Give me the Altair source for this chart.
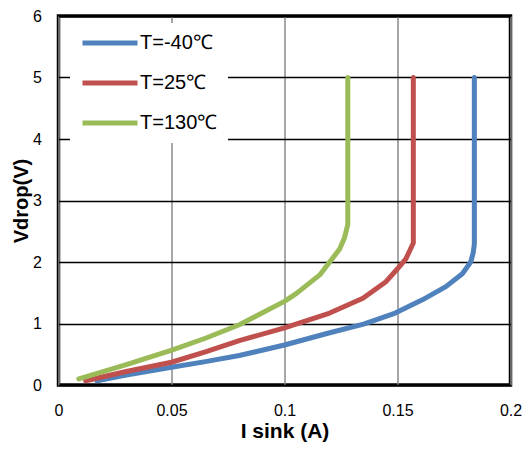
import altair as alt
import pandas as pd

series_names = ["T=-40℃", "T=25℃", "T=130℃"]
series_colors = ["#4F81BD", "#C0504D", "#9BBB59"]

# T = -40 C
i_m40 = [0.017, 0.03, 0.05, 0.065, 0.08, 0.1, 0.12, 0.135, 0.149, 0.161, 0.1714, 0.1787, 0.1824, 0.1835, 0.184, 0.184]
v_m40 = [0.07, 0.16, 0.29, 0.38, 0.48, 0.65, 0.85, 0.99, 1.17, 1.385, 1.60, 1.81, 2.0, 2.15, 2.29, 5.0]

# T = 25 C
i_25 = [0.012, 0.03, 0.05, 0.065, 0.08, 0.1, 0.12, 0.1347, 0.1449, 0.15, 0.1537, 0.157, 0.157]
v_25 = [0.07, 0.22, 0.37, 0.54, 0.72, 0.93, 1.17, 1.41, 1.68, 1.89, 2.05, 2.31, 5.0]

# T = 130 C
i_130 = [0.009, 0.03, 0.0495, 0.065, 0.08, 0.1, 0.1053, 0.1156, 0.12, 0.1244, 0.1266, 0.128, 0.128]
v_130 = [0.10, 0.33, 0.56, 0.76, 0.98, 1.36, 1.49, 1.79, 2.0, 2.21, 2.40, 2.61, 5.0]

x_ticks = [0, 0.05, 0.1, 0.15, 0.2]
y_ticks = [0, 1, 2, 3, 4, 5, 6]

rows = []
for name, xs, ys in zip(series_names, [i_m40, i_25, i_130], [v_m40, v_25, v_130]):
    for k, (xv, yv) in enumerate(zip(xs, ys)):
        rows.append({"series": name, "I": xv, "V": yv, "order": k})
df = pd.DataFrame(rows)

FONT = "Liberation Sans"

chart = alt.Chart(df).mark_line(
    strokeWidth=5, strokeCap="round", strokeJoin="round"
).encode(
    x=alt.X("I:Q",
            scale=alt.Scale(domain=[0, 0.2], nice=False, zero=False),
            axis=alt.Axis(values=x_ticks, format=".2~f", title="I sink (A)",
                          grid=True, gridColor="#8a8a8a", gridWidth=1.5,
                          domain=False, ticks=False, labelPadding=17,
                          labelFlush=False, labelOverlap=False,
                          titleY=52, titleBaseline="alphabetic")),
    y=alt.Y("V:Q",
            scale=alt.Scale(domain=[0, 6], nice=False),
            axis=alt.Axis(values=y_ticks, title="Vdrop(V)",
                          grid=True, gridColor="#000000", gridWidth=1.3,
                          domain=False, ticks=False, labelPadding=17,
                          labelFlush=False, labelOverlap=False,
                          titleX=-31.5, titleFontSize=20, titleBaseline="alphabetic")),
    color=alt.Color("series:N",
                    scale=alt.Scale(domain=series_names, range=series_colors),
                    legend=alt.Legend(title=None, orient="none", legendX=11.5, legendY=7,
                                      fillColor="white", padding=10,
                                      symbolType="stroke", symbolSize=3025,
                                      symbolStrokeWidth=5, labelFontSize=20,
                                      labelFont=FONT, labelColor="black",
                                      labelOffset=0, rowPadding=20, clipHeight=20)),
    order=alt.Order("order:Q"),
).properties(
    width=452, height=369,
    autosize=alt.AutoSizeParams(type="none"),
    padding={"left": 50.5, "top": 8, "right": 11.5, "bottom": 58},
).configure_view(
    stroke="black", strokeWidth=3.5
).configure_axis(
    labelFont=FONT, labelFontSize=16, labelColor="black",
    titleFont=FONT, titleFontSize=21, titleFontWeight="bold", titleColor="black",
)

chart.save("out.html", embed_options={"renderer": "svg", "actions": False})
